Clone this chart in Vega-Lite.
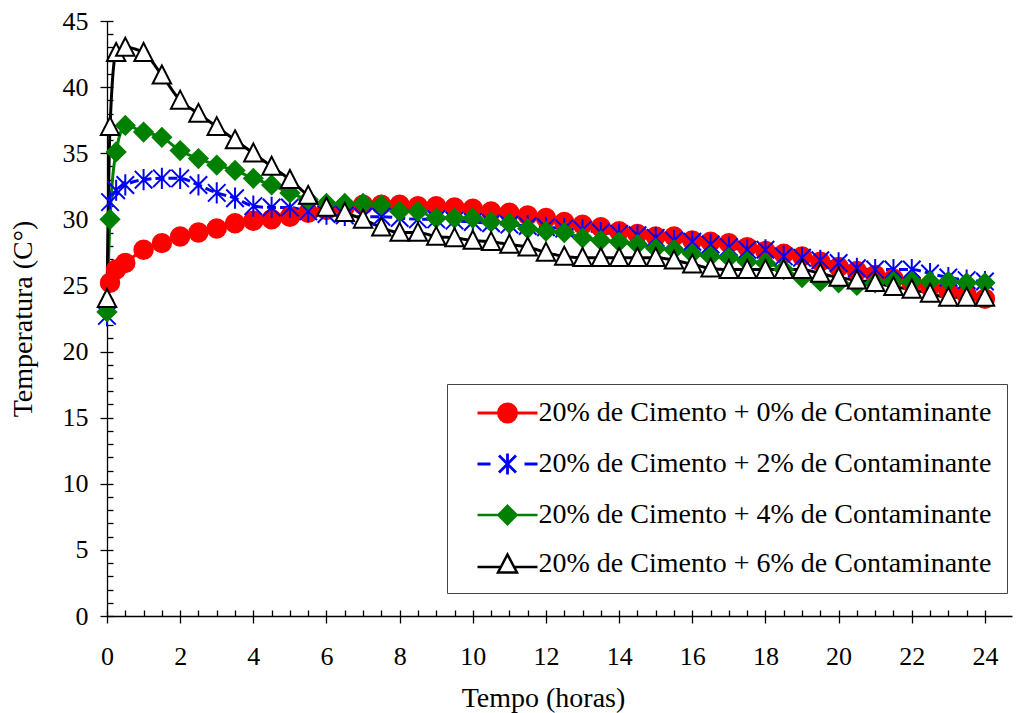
{
  "$schema": "https://vega.github.io/schema/vega-lite/v6.json",
  "width": 905,
  "height": 595,
  "autosize": {"type": "none"},
  "padding": {"left": 107, "top": 21, "right": 4, "bottom": 97},
  "background": "white",
  "config": {
    "view": {"stroke": null},
    "font": "Liberation Serif",
    "axis": {
      "grid": false,
      "domainColor": "black",
      "domainWidth": 1.3,
      "tickColor": "black",
      "tickWidth": 1.3,
      "labelColor": "black",
      "titleColor": "black",
      "labelFont": "Liberation Serif",
      "titleFont": "Liberation Serif",
      "titleFontWeight": "normal"
    }
  },
  "data": {
    "values": [
      {"s":"0%","t":0.083,"v":25.2},{"s":"0%","t":0.25,"v":26.2},{"s":"0%","t":0.5,"v":26.7},{"s":"0%","t":1,"v":27.7},{"s":"0%","t":1.5,"v":28.2},{"s":"0%","t":2,"v":28.7},{"s":"0%","t":2.5,"v":29.0},{"s":"0%","t":3,"v":29.3},{"s":"0%","t":3.5,"v":29.7},{"s":"0%","t":4,"v":29.9},{"s":"0%","t":4.5,"v":30.0},{"s":"0%","t":5,"v":30.2},{"s":"0%","t":5.5,"v":30.5},{"s":"0%","t":6,"v":30.7},{"s":"0%","t":6.5,"v":30.9},{"s":"0%","t":7,"v":31.1},{"s":"0%","t":7.5,"v":31.1},{"s":"0%","t":8,"v":31.1},{"s":"0%","t":8.5,"v":31.0},{"s":"0%","t":9,"v":31.0},{"s":"0%","t":9.5,"v":30.9},{"s":"0%","t":10,"v":30.8},{"s":"0%","t":10.5,"v":30.6},{"s":"0%","t":11,"v":30.5},{"s":"0%","t":11.5,"v":30.3},{"s":"0%","t":12,"v":30.1},{"s":"0%","t":12.5,"v":29.8},{"s":"0%","t":13,"v":29.6},{"s":"0%","t":13.5,"v":29.4},{"s":"0%","t":14,"v":29.1},{"s":"0%","t":14.5,"v":28.9},{"s":"0%","t":15,"v":28.7},{"s":"0%","t":15.5,"v":28.7},{"s":"0%","t":16,"v":28.4},{"s":"0%","t":16.5,"v":28.3},{"s":"0%","t":17,"v":28.2},{"s":"0%","t":17.5,"v":27.9},{"s":"0%","t":18,"v":27.6},{"s":"0%","t":18.5,"v":27.4},{"s":"0%","t":19,"v":27.2},{"s":"0%","t":19.5,"v":26.8},{"s":"0%","t":20,"v":26.4},{"s":"0%","t":20.5,"v":26.1},{"s":"0%","t":21,"v":25.8},{"s":"0%","t":21.5,"v":25.5},{"s":"0%","t":22,"v":25.2},{"s":"0%","t":22.5,"v":24.9},{"s":"0%","t":23,"v":24.6},{"s":"0%","t":23.5,"v":24.3},{"s":"0%","t":24,"v":24.0},
      {"s":"2%","t":0,"v":22.7},{"s":"2%","t":0.083,"v":31.3},{"s":"2%","t":0.25,"v":32.2},{"s":"2%","t":0.5,"v":32.6},{"s":"2%","t":1,"v":33.0},{"s":"2%","t":1.5,"v":33.1},{"s":"2%","t":2,"v":33.1},{"s":"2%","t":2.5,"v":32.6},{"s":"2%","t":3,"v":32.0},{"s":"2%","t":3.5,"v":31.6},{"s":"2%","t":4,"v":31.0},{"s":"2%","t":4.5,"v":30.9},{"s":"2%","t":5,"v":30.9},{"s":"2%","t":5.5,"v":30.6},{"s":"2%","t":6,"v":30.4},{"s":"2%","t":6.5,"v":30.3},{"s":"2%","t":7,"v":30.2},{"s":"2%","t":7.5,"v":30.2},{"s":"2%","t":8,"v":30.1},{"s":"2%","t":8.5,"v":30.0},{"s":"2%","t":9,"v":30.0},{"s":"2%","t":9.5,"v":29.9},{"s":"2%","t":10,"v":29.8},{"s":"2%","t":10.5,"v":29.7},{"s":"2%","t":11,"v":29.6},{"s":"2%","t":11.5,"v":29.5},{"s":"2%","t":12,"v":29.4},{"s":"2%","t":12.5,"v":29.3},{"s":"2%","t":13,"v":29.2},{"s":"2%","t":13.5,"v":29.0},{"s":"2%","t":14,"v":28.9},{"s":"2%","t":14.5,"v":28.8},{"s":"2%","t":15,"v":28.6},{"s":"2%","t":15.5,"v":28.4},{"s":"2%","t":16,"v":28.3},{"s":"2%","t":16.5,"v":28.1},{"s":"2%","t":17,"v":27.9},{"s":"2%","t":17.5,"v":27.7},{"s":"2%","t":18,"v":27.7},{"s":"2%","t":18.5,"v":27.2},{"s":"2%","t":19,"v":27.1},{"s":"2%","t":19.5,"v":26.9},{"s":"2%","t":20,"v":26.7},{"s":"2%","t":20.5,"v":26.3},{"s":"2%","t":21,"v":26.2},{"s":"2%","t":21.5,"v":26.2},{"s":"2%","t":22,"v":26.2},{"s":"2%","t":22.5,"v":25.9},{"s":"2%","t":23,"v":25.6},{"s":"2%","t":23.5,"v":25.4},{"s":"2%","t":24,"v":25.3},
      {"s":"4%","t":0,"v":23.0},{"s":"4%","t":0.083,"v":30.0},{"s":"4%","t":0.25,"v":35.1},{"s":"4%","t":0.5,"v":37.1},{"s":"4%","t":1,"v":36.6},{"s":"4%","t":1.5,"v":36.2},{"s":"4%","t":2,"v":35.2},{"s":"4%","t":2.5,"v":34.6},{"s":"4%","t":3,"v":34.1},{"s":"4%","t":3.5,"v":33.7},{"s":"4%","t":4,"v":33.1},{"s":"4%","t":4.5,"v":32.6},{"s":"4%","t":5,"v":32.0},{"s":"4%","t":5.5,"v":31.5},{"s":"4%","t":6,"v":31.2},{"s":"4%","t":6.5,"v":31.2},{"s":"4%","t":7,"v":31.2},{"s":"4%","t":7.5,"v":31.1},{"s":"4%","t":8,"v":30.6},{"s":"4%","t":8.5,"v":30.6},{"s":"4%","t":9,"v":30.1},{"s":"4%","t":9.5,"v":30.1},{"s":"4%","t":10,"v":30.1},{"s":"4%","t":10.5,"v":29.8},{"s":"4%","t":11,"v":29.7},{"s":"4%","t":11.5,"v":29.3},{"s":"4%","t":12,"v":29.1},{"s":"4%","t":12.5,"v":29.0},{"s":"4%","t":13,"v":28.6},{"s":"4%","t":13.5,"v":28.4},{"s":"4%","t":14,"v":28.3},{"s":"4%","t":14.5,"v":28.1},{"s":"4%","t":15,"v":27.8},{"s":"4%","t":15.5,"v":27.7},{"s":"4%","t":16,"v":27.4},{"s":"4%","t":16.5,"v":27.2},{"s":"4%","t":17,"v":27.1},{"s":"4%","t":17.5,"v":26.8},{"s":"4%","t":18,"v":26.7},{"s":"4%","t":18.5,"v":26.2},{"s":"4%","t":19,"v":25.6},{"s":"4%","t":19.5,"v":25.3},{"s":"4%","t":20,"v":25.2},{"s":"4%","t":20.5,"v":25.0},{"s":"4%","t":21,"v":25.2},{"s":"4%","t":21.5,"v":25.3},{"s":"4%","t":22,"v":25.3},{"s":"4%","t":22.5,"v":25.3},{"s":"4%","t":23,"v":25.3},{"s":"4%","t":23.5,"v":25.2},{"s":"4%","t":24,"v":25.2},
      {"s":"6%","t":0,"v":24.0},{"s":"6%","t":0.083,"v":37.0},{"s":"6%","t":0.25,"v":42.6},{"s":"6%","t":0.5,"v":43.0},{"s":"6%","t":1,"v":42.6},{"s":"6%","t":1.5,"v":40.9},{"s":"6%","t":2,"v":39.0},{"s":"6%","t":2.5,"v":38.0},{"s":"6%","t":3,"v":37.0},{"s":"6%","t":3.5,"v":36.0},{"s":"6%","t":4,"v":35.0},{"s":"6%","t":4.5,"v":34.0},{"s":"6%","t":5,"v":33.0},{"s":"6%","t":5.5,"v":31.8},{"s":"6%","t":6,"v":30.9},{"s":"6%","t":6.5,"v":30.5},{"s":"6%","t":7,"v":30.0},{"s":"6%","t":7.5,"v":29.4},{"s":"6%","t":8,"v":29.0},{"s":"6%","t":8.5,"v":29.0},{"s":"6%","t":9,"v":28.7},{"s":"6%","t":9.5,"v":28.6},{"s":"6%","t":10,"v":28.4},{"s":"6%","t":10.5,"v":28.3},{"s":"6%","t":11,"v":28.1},{"s":"6%","t":11.5,"v":27.9},{"s":"6%","t":12,"v":27.5},{"s":"6%","t":12.5,"v":27.2},{"s":"6%","t":13,"v":27.1},{"s":"6%","t":13.5,"v":27.1},{"s":"6%","t":14,"v":27.1},{"s":"6%","t":14.5,"v":27.1},{"s":"6%","t":15,"v":27.1},{"s":"6%","t":15.5,"v":26.9},{"s":"6%","t":16,"v":26.6},{"s":"6%","t":16.5,"v":26.3},{"s":"6%","t":17,"v":26.2},{"s":"6%","t":17.5,"v":26.2},{"s":"6%","t":18,"v":26.2},{"s":"6%","t":18.5,"v":26.2},{"s":"6%","t":19,"v":26.2},{"s":"6%","t":19.5,"v":25.9},{"s":"6%","t":20,"v":25.6},{"s":"6%","t":20.5,"v":25.4},{"s":"6%","t":21,"v":25.2},{"s":"6%","t":21.5,"v":24.9},{"s":"6%","t":22,"v":24.7},{"s":"6%","t":22.5,"v":24.4},{"s":"6%","t":23,"v":24.1},{"s":"6%","t":23.5,"v":24.1},{"s":"6%","t":24,"v":24.1}
    ]
  },
  "layer": [
    {
      "mark": {"type": "line", "interpolate": "monotone"},
      "encoding": {
        "x": {
          "field": "t", "type": "quantitative",
          "scale": {"domain": [0, 24.74], "nice": false, "zero": false},
          "axis": {
            "orient": "bottom",
            "values": [0,2,4,6,8,10,12,14,16,18,20,22,24],
            "tickSize": 7,
            "labelFont": "Liberation Serif",
            "labelFontSize": 26,
            "labelPadding": 20,
            "labelFlush": false,
            "title": "Tempo (horas)",
            "titleFont": "Liberation Serif",
            "titleFontSize": 28,
            "titleBaseline": "alphabetic",
            "titleX": 436,
            "titleY": 90,
            "titleAlign": "center"
          }
        },
        "y": {
          "field": "v", "type": "quantitative",
          "scale": {"domain": [0, 45], "nice": false},
          "axis": {
            "orient": "left",
            "values": [0,5,10,15,20,25,30,35,40,45],
            "tickSize": 7,
            "labelFont": "Liberation Serif",
            "labelFontSize": 26,
            "labelPadding": 12,
            "labelFlush": false,
            "title": "Temperatura (C°)",
            "titleFont": "Liberation Serif",
            "titleFontSize": 28,
            "titleAngle": -90,
            "titleBaseline": "alphabetic",
            "titleAlign": "center",
            "titleX": -76,
            "titleY": 297.5
          }
        },
        "color": {
          "field": "s", "type": "nominal",
          "scale": {"domain": ["0%","2%","4%","6%"], "range": ["#ff0000","#0000ff","#008000","#000000"]},
          "legend": null
        },
        "strokeWidth": {
          "field": "s", "type": "nominal",
          "scale": {"domain": ["0%","2%","4%","6%"], "range": [3, 3, 1.5, 3.5]},
          "legend": null
        },
        "strokeDash": {
          "field": "s", "type": "nominal",
          "scale": {"domain": ["0%","2%","4%","6%"], "range": [[1,0],[9,4],[1,0],[1,0]]},
          "legend": null
        }
      }
    },
    {
      "mark": {"type": "point", "size": 340, "strokeWidth": 2, "opacity": 1},
      "encoding": {
        "x": {"field": "t", "type": "quantitative", "axis": null},
        "y": {"field": "v", "type": "quantitative", "axis": null},
        "shape": {
          "field": "s", "type": "nominal",
          "scale": {"domain": ["0%","2%","4%","6%"], "range": ["circle", "M-0.95,-0.95L0.95,0.95M-0.95,0.95L0.95,-0.95M0,-1.15V1.15", "diamond", "M0,-1.05L1,0.9L-1,0.9Z"]},
          "legend": null
        },
        "fill": {
          "field": "s", "type": "nominal",
          "scale": {"domain": ["0%","2%","4%","6%"], "range": ["#ff0000","transparent","#008000","#ffffff"]},
          "legend": null
        },
        "stroke": {
          "field": "s", "type": "nominal",
          "scale": {"domain": ["0%","2%","4%","6%"], "range": ["#ff0000","#0000ff","#008000","#000000"]},
          "legend": null
        }
      }
    },
    {
      "mark": {"type": "point", "size": 10, "opacity": 0},
      "encoding": {
        "x": {
          "field": "t", "type": "quantitative",
          "axis": {
            "orient": "bottom",
            "values": [0,0.5,1,1.5,2,2.5,3,3.5,4,4.5,5,5.5,6,6.5,7,7.5,8,8.5,9,9.5,10,10.5,11,11.5,12,12.5,13,13.5,14,14.5,15,15.5,16,16.5,17,17.5,18,18.5,19,19.5,20,20.5,21,21.5,22,22.5,23,23.5,24],
            "tickSize": -6,
            "labels": false,
            "domain": false,
            "title": null
          }
        },
        "y": {
          "field": "v", "type": "quantitative",
          "axis": {
            "orient": "left",
            "values": [0,1,2,3,4,5,6,7,8,9,10,11,12,13,14,15,16,17,18,19,20,21,22,23,24,25,26,27,28,29,30,31,32,33,34,35,36,37,38,39,40,41,42,43,44,45],
            "tickSize": -6,
            "labels": false,
            "domain": false,
            "title": null
          }
        },
        "shape": {
          "field": "s", "type": "nominal",
          "scale": {"domain": ["0%","2%","4%","6%"], "range": [
            "M-3,0H3M0.9,0A0.9,0.9,0,1,1,-0.9,0A0.9,0.9,0,1,1,0.9,0Z",
            "M-3,0H-1.7M1.7,0H3M-0.85,-0.85L0.85,0.85M-0.85,0.85L0.85,-0.85M0,-1.05V1.05",
            "M-3,0H3M0,-0.9L0.9,0L0,0.9L-0.9,0Z",
            "M-3,0.3H-0.66M0.66,0.3H3M0,-0.95L0.95,0.85L-0.95,0.85Z"
          ]},
          "legend": {"orient": "none", "legendX": 340, "legendY": 363, "title": null, "labelExpr": "'20% de Cimento + ' + datum.label + ' de Contaminante'", "labelFont": "Liberation Serif", "labelFontSize": 28, "labelColor": "black", "labelLimit": 0, "symbolSize": 400, "symbolOpacity": 1, "symbolOffset": 31.5, "labelOffset": 17, "padding": 15, "rowPadding": 19, "strokeColor": "#444444", "fillColor": "white"}
        },
        "fill": {
          "field": "s", "type": "nominal",
          "scale": {"domain": ["0%","2%","4%","6%"], "range": ["#ff0000","transparent","#008000","#ffffff"]},
          "legend": {"orient": "none", "legendX": 340, "legendY": 363, "title": null, "labelExpr": "'20% de Cimento + ' + datum.label + ' de Contaminante'", "labelFont": "Liberation Serif", "labelFontSize": 28, "labelColor": "black", "labelLimit": 0, "symbolSize": 400, "symbolOpacity": 1, "symbolOffset": 31.5, "labelOffset": 17, "padding": 15, "rowPadding": 19, "strokeColor": "#444444", "fillColor": "white"}
        },
        "stroke": {
          "field": "s", "type": "nominal",
          "scale": {"domain": ["0%","2%","4%","6%"], "range": ["#ff0000","#0000ff","#008000","#000000"]},
          "legend": {"orient": "none", "legendX": 340, "legendY": 363, "title": null, "labelExpr": "'20% de Cimento + ' + datum.label + ' de Contaminante'", "labelFont": "Liberation Serif", "labelFontSize": 28, "labelColor": "black", "labelLimit": 0, "symbolSize": 400, "symbolOpacity": 1, "symbolOffset": 31.5, "labelOffset": 17, "padding": 15, "rowPadding": 19, "strokeColor": "#444444", "fillColor": "white"}
        },
        "strokeWidth": {
          "field": "s", "type": "nominal",
          "scale": {"domain": ["0%","2%","4%","6%"], "range": [3, 2.5, 1.5, 3.5]},
          "legend": {"orient": "none", "legendX": 340, "legendY": 363, "title": null, "labelExpr": "'20% de Cimento + ' + datum.label + ' de Contaminante'", "labelFont": "Liberation Serif", "labelFontSize": 28, "labelColor": "black", "labelLimit": 0, "symbolSize": 400, "symbolOpacity": 1, "symbolOffset": 31.5, "labelOffset": 17, "padding": 15, "rowPadding": 19, "strokeColor": "#444444", "fillColor": "white"}
        }
      }
    }
  ],
  "resolve": {
    "scale": {"shape": "independent", "fill": "independent", "stroke": "independent", "strokeWidth": "independent"},
    "axis": {"x": "independent", "y": "independent"}
  }
}
